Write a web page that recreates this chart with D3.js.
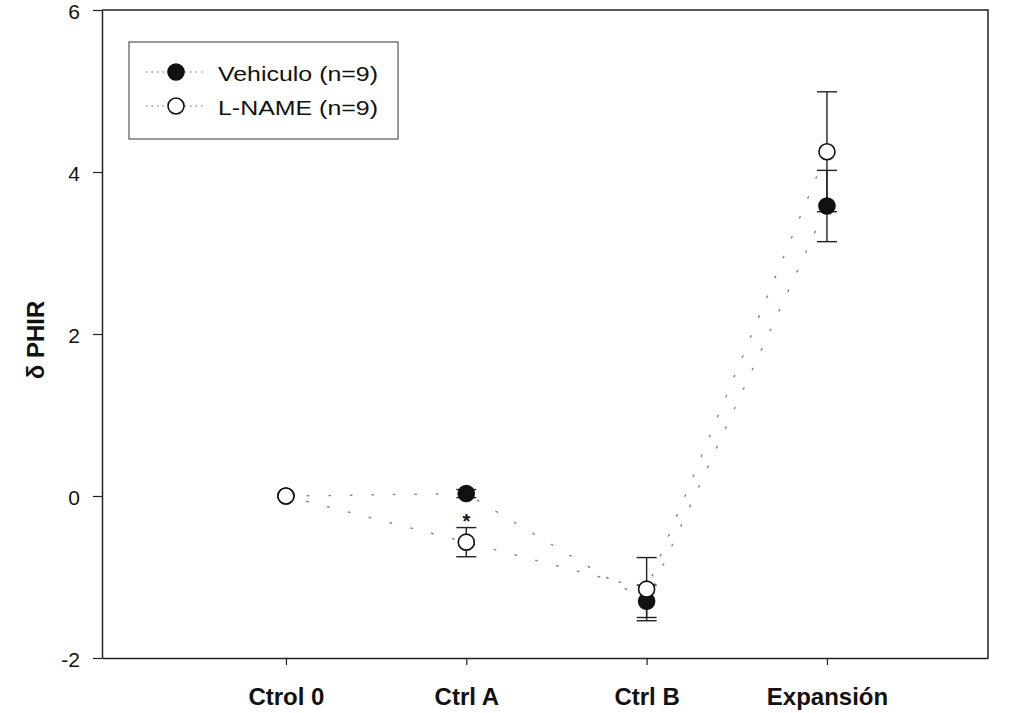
<!DOCTYPE html>
<html>
<head>
<meta charset="utf-8">
<script src="https://cdn.jsdelivr.net/npm/d3@7"></script>
<style>
  html, body { margin: 0; padding: 0; background: #fff; }
  svg { display: block; }
</style>
</head>
<body>
<svg id="chart" width="1010" height="713"></svg>
<script>
// Groups along the x axis
const categories = ["Ctrol 0", "Ctrl A", "Ctrl B", "Expansión"];
// Mean change in PHIR for each group, with error
const vehiculoMean = [0, 0.03, -1.30, 3.58];
const vehiculoErr  = [0, 0.05, 0.20, 0.44];
const lnameMean    = [0, -0.57, -1.15, 4.25];
const lnameErr     = [0, 0.18, 0.39, 0.74];
const yTicks = [-2, 0, 2, 4, 6];
const seriesNames = ["Vehiculo (n=9)", "L-NAME (n=9)"];

(function () {
  const svg = d3.select("#chart");
  const pLeft = 102, pRight = 988, pTop = 10, pBottom = 658;

  const x = d3.scaleLinear().domain([-1.02, 3.893]).range([pLeft, pRight]);
  const y = d3.scaleLinear().domain([-2, 6]).range([pBottom, pTop]);

  const font = "'Liberation Sans', Arial, Helvetica, sans-serif";

  // Frame (top and right edges)
  svg.append("path")
    .attr("d", `M${pLeft},${pTop}H${pRight}V${pBottom}`)
    .attr("fill", "none").attr("stroke", "#222").attr("stroke-width", 1.5);

  // Y axis
  const yAxis = svg.append("g")
    .attr("transform", `translate(${pLeft},0)`)
    .call(d3.axisLeft(y).tickValues(yTicks).tickSizeInner(9).tickSizeOuter(0).tickPadding(13)
      .tickFormat(d => String(d)));
  yAxis.select(".domain").attr("stroke", "#222").attr("stroke-width", 1.5);
  yAxis.selectAll(".tick line").attr("stroke", "#222").attr("stroke-width", 1.2);
  yAxis.selectAll("text").attr("font-family", font).attr("font-size", 21).attr("fill", "#111")
    .attr("dy", "0.42em");

  // X axis
  const xAxis = svg.append("g")
    .attr("transform", `translate(0,${pBottom})`)
    .call(d3.axisBottom(x).tickValues(d3.range(categories.length)).tickSizeInner(7).tickSizeOuter(0)
      .tickPadding(23).tickFormat(i => categories[i]));
  xAxis.select(".domain").attr("stroke", "#222").attr("stroke-width", 1.5);
  xAxis.selectAll(".tick line").attr("stroke", "#222").attr("stroke-width", 1.2);
  xAxis.selectAll("text").attr("font-family", font).attr("font-size", 24)
    .attr("font-weight", "bold").attr("fill", "#111");

  // Y axis title
  svg.append("text")
    .attr("transform", `translate(44,340) rotate(-90)`)
    .attr("text-anchor", "middle")
    .attr("font-family", font).attr("font-size", 24).attr("font-weight", "bold").attr("fill", "#111")
    .text("δ PHIR");

  const series = [
    { mean: vehiculoMean, err: vehiculoErr, fill: "#111" },
    { mean: lnameMean, err: lnameErr, fill: "#fff" }
  ];

  // Dotted connecting lines
  const line = d3.line().x((d, i) => x(i)).y(d => y(d));
  series.forEach(s => {
    svg.append("path")
      .attr("d", line(s.mean))
      .attr("fill", "none").attr("stroke", "#8a8a8a").attr("stroke-width", 1.5)
      .attr("stroke-dasharray", "1.5,20").attr("stroke-linecap", "round");
  });

  // Error bars
  const cap = 10;
  series.forEach(s => {
    s.mean.forEach((m, i) => {
      if (!s.err[i]) return;
      const g = svg.append("g").attr("stroke", "#222").attr("stroke-width", 1.4);
      const y1 = y(m + s.err[i]), y2 = y(m - s.err[i]);
      g.append("line").attr("x1", x(i)).attr("x2", x(i)).attr("y1", y1).attr("y2", y2);
      g.append("line").attr("x1", x(i) - cap).attr("x2", x(i) + cap).attr("y1", y1).attr("y2", y1);
      g.append("line").attr("x1", x(i) - cap).attr("x2", x(i) + cap).attr("y1", y2).attr("y2", y2);
    });
  });

  // Markers (vehicle first, L-NAME on top)
  series.forEach(s => {
    svg.append("g").selectAll("circle")
      .data(s.mean)
      .join("circle")
      .attr("cx", (d, i) => x(i)).attr("cy", d => y(d)).attr("r", 8)
      .attr("fill", s.fill).attr("stroke", "#111").attr("stroke-width", 1.6);
  });

  // Significance mark at Ctrl A
  svg.append("text")
    .attr("x", x(1)).attr("y", (y(vehiculoMean[1]) + y(lnameMean[1])) / 2 + 10)
    .attr("text-anchor", "middle")
    .attr("font-family", font).attr("font-size", 20).attr("font-weight", "bold").attr("fill", "#111")
    .text("*");

  // Legend
  const lg = svg.append("g");
  lg.append("rect").attr("x", 129).attr("y", 42).attr("width", 269).attr("height", 97)
    .attr("fill", "#fff").attr("stroke", "#555").attr("stroke-width", 1.2);
  seriesNames.forEach((name, k) => {
    const cy = 72 + k * 34;
    lg.append("line").attr("x1", 146).attr("x2", 206).attr("y1", cy).attr("y2", cy)
      .attr("stroke", "#999").attr("stroke-width", 1.4).attr("stroke-dasharray", "1.5,4");
    lg.append("circle").attr("cx", 176).attr("cy", cy).attr("r", 8)
      .attr("fill", series[k].fill).attr("stroke", "#111").attr("stroke-width", 1.6);
    lg.append("text").attr("x", 218).attr("y", cy + 9)
      .attr("font-family", font).attr("font-size", 21).attr("fill", "#111")
      .attr("textLength", 160).attr("lengthAdjust", "spacingAndGlyphs")
      .text(name);
  });
})();
</script>
</body>
</html>
